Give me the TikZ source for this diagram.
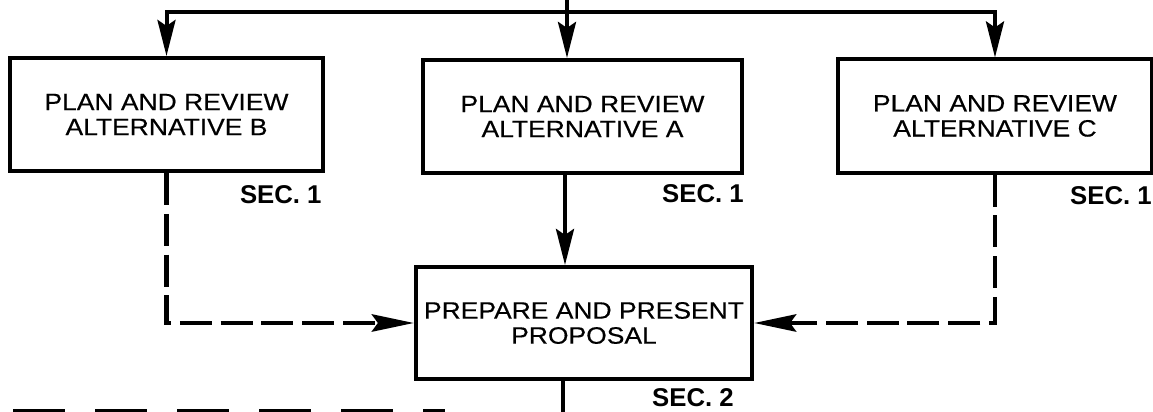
\documentclass[tikz,border=0pt]{standalone}
\usepackage{fontspec}
\usepackage{tikz}
\usetikzlibrary{arrows.meta,positioning}
\setmainfont{Liberation Sans}
\newfontfamily\boxfont[FakeStretch=1.12, FakeBold=0.4]{Liberation Sans}

\begin{document}
\begin{tikzpicture}[x=0.025cm, y=-0.025cm,
  stage/.style={draw, line width=0.1cm, align=center, inner sep=0pt,
    font=\boxfont\fontsize{16.8}{17.8}\selectfont, minimum height=2.825cm},
  sec/.style={inner sep=0pt, font=\bfseries\fontsize{18.3}{20}\selectfont},
  flow/.style={line width=0.1cm, -{Stealth[length=0.9cm, width=0.45cm, inset=0.15cm]}},
  alt/.style={line width=0.12cm, dash pattern=on 0.8cm off 0.22cm,
    -{Stealth[length=1.05cm, width=0.43cm, inset=0.15cm]}},
  cut/.style={line width=0.2cm, dash pattern=on 1.3cm off 0.75cm}]
\useasboundingbox (0,0) rectangle (1153,412);

\node[stage, minimum width=7.825cm] (altB) at (166.5,114.5) {PLAN AND REVIEW\\ALTERNATIVE B};
\node[stage, minimum width=7.975cm] (altA) at (582.5,116.5) {PLAN AND REVIEW\\ALTERNATIVE A};
\node[stage, minimum width=7.85cm] (altC) at (995,116) {PLAN AND REVIEW\\ALTERNATIVE C};
\node[stage, minimum width=8.4cm, minimum height=2.8cm] (prop) at (584,323) {PREPARE AND PRESENT\\PROPOSAL};

\node[sec, below left=0.3cm and 0.08cm of altB.south east] (secB) {SEC. 1};
\node[sec, below left=0.22cm and 0cm of altA.south east] (secA) {SEC. 1};
\node[sec, below left=0.3cm and 0.05cm of altC.south east] (secC) {SEC. 1};
\node[sec, below left=0.18cm and 0.5cm of prop.south east] (secP) {SEC. 2};

\coordinate (src) at (567,0);
\coordinate (split) at (567,12);
\coordinate (out) at (563,412);
\coordinate (cutL) at (13,413);
\coordinate (cutR) at (445,413);

\draw[line width=0.1cm] (altB.north |- split) -- (altC.north |- split);
\draw[flow] (split) -| (altB.north);
\draw[flow] (split) -| (altC.north);
\draw[flow] (src) -- (src |- altA.north);
\draw[flow] (altA.south -| 565,0) -- (prop.north -| 565,0);

\draw[alt] (altB.south) |- (prop.west);
\draw[alt] (altC.south) |- (prop.east);

\draw[line width=0.1cm] (prop.south -| out) -- (out);
\draw[cut] (cutL) -- (cutR);
\end{tikzpicture}
\end{document}
